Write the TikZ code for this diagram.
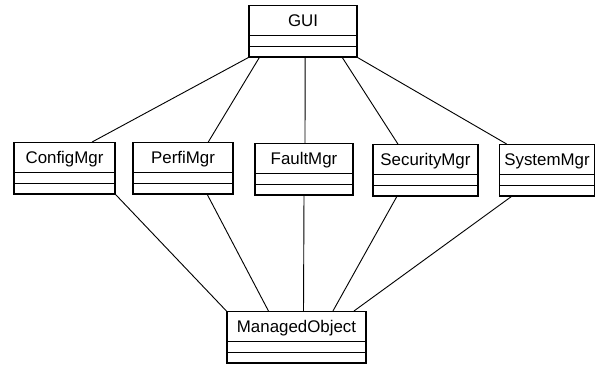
\documentclass[tikz,border=0pt]{standalone}
\usepackage{fontspec}
\setmainfont{Liberation Sans}
\usetikzlibrary{shapes.multipart,calc}

\tikzset{
  umlclass/.style={draw, line width=0.8pt, rectangle split, rectangle split parts=3,
    inner ysep=0pt, inner xsep=2pt, rectangle split empty part height=0.24cm,
    font=\fontsize{12}{14}\selectfont, anchor=north},
  link/.style={line width=0.65pt}
}
\newcommand{\classname}[1]{\raisebox{0.22cm}{\rule{0pt}{0.5cm}#1}}

\begin{document}
\begin{tikzpicture}[x=0.025cm, y=0.025cm]

        \useasboundingbox (0,0) rectangle (608,364);

        % Top class
        \node[umlclass, minimum width=2.7cm] (gui) at (303,359) {\classname{GUI} \nodepart{second} \nodepart{third}};

        % Managers
        \node[umlclass, minimum width=2.525cm] (config) at (64.5,222) {\classname{ConfigMgr} \nodepart{second} \nodepart{third}};
        \node[umlclass, minimum width=2.5cm] (perf) at (183,222) {\classname{PerfiMgr} \nodepart{second} \nodepart{third}};
        \node[umlclass, minimum width=2.45cm] (fault) at (304,221) {\classname{FaultMgr} \nodepart{second} \nodepart{third}};
        \node[umlclass, minimum width=2.625cm] (security) at (425.5,220) {\classname{SecurityMgr} \nodepart{second} \nodepart{third}};
        \node[umlclass, minimum width=2.375cm] (system) at (547,220) {\classname{SystemMgr} \nodepart{second} \nodepart{third}};

        % Bottom class
        \node[umlclass, minimum width=3.475cm] (managed) at (296.5,53) {\classname{ManagedObject} \nodepart{second} \nodepart{third}};

        % GUI to managers
        \draw[link] (gui.south west) -- ($(config.north west)!0.77!(config.north east)$);
        \draw[link] ($(gui.south west)!0.10!(gui.south east)$) -- ($(perf.north west)!0.75!(perf.north east)$);
        \draw[link] ($(gui.south west)!0.52!(gui.south east)$) -- ($(fault.north west)!0.51!(fault.north east)$);
        \draw[link] ($(gui.south west)!0.86!(gui.south east)$) -- ($(security.north west)!0.24!(security.north east)$);
        \draw[link] (gui.south east) -- ($(system.north west)!0.08!(system.north east)$);

        % Managers to managed object
        \draw[link] (config.south east) -- (managed.north west);
        \draw[link] ($(perf.south west)!0.74!(perf.south east)$) -- ($(managed.north west)!0.30!(managed.north east)$);
        \draw[link] ($(fault.south west)!0.50!(fault.south east)$) -- ($(managed.north west)!0.55!(managed.north east)$);
        \draw[link] ($(security.south west)!0.23!(security.south east)$) -- ($(managed.north west)!0.76!(managed.north east)$);
        \draw[link] ($(system.south west)!0.13!(system.south east)$) -- ($(managed.north west)!0.91!(managed.north east)$);

\end{tikzpicture}
\end{document}
